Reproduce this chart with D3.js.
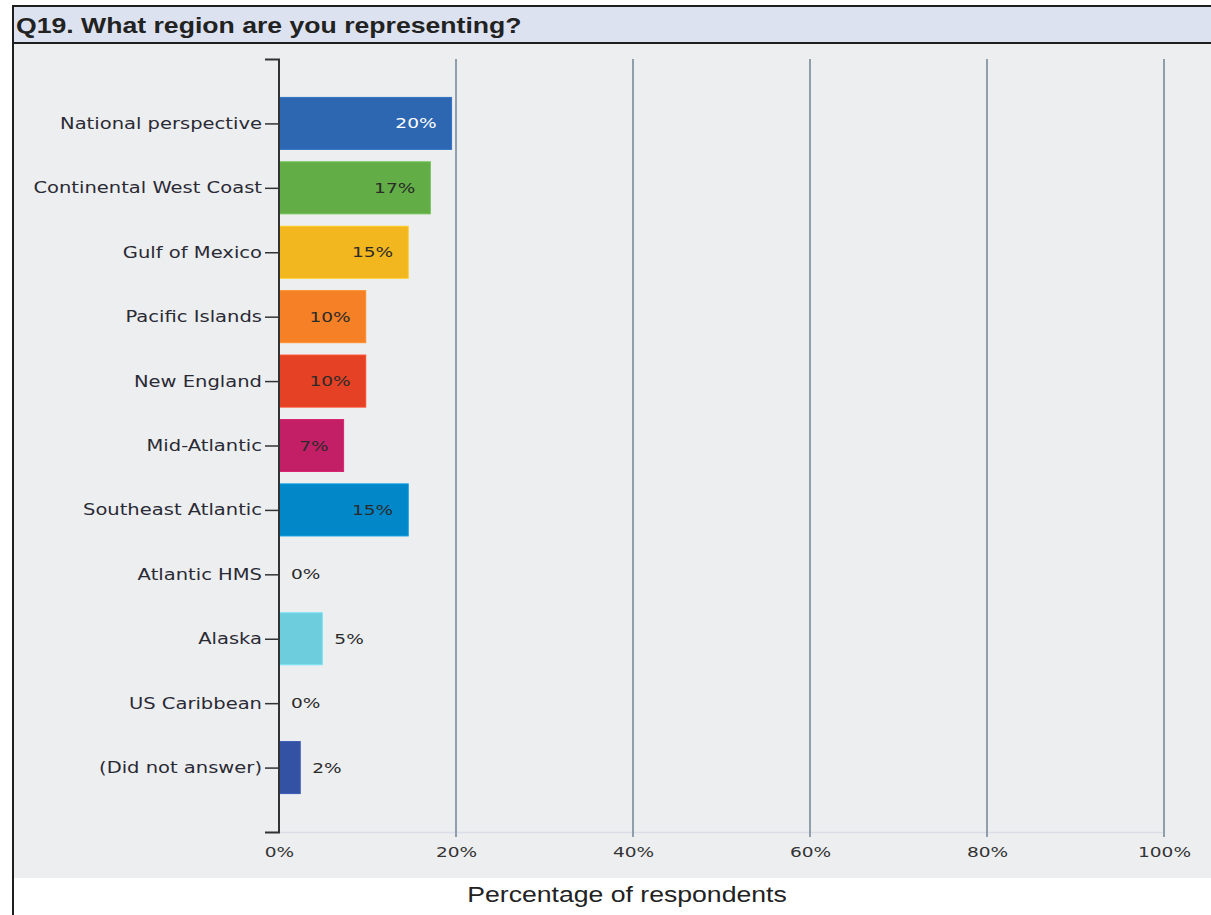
<!DOCTYPE html>
<html>
<head>
<meta charset="utf-8">
<script src="https://cdn.jsdelivr.net/npm/d3@7"></script>
<style>
  html, body { margin: 0; padding: 0; background: #ffffff; }
  svg { display: block; }
</style>
</head>
<body>
<svg id="chart" width="1211" height="915"></svg>
<script>
// Survey responses: share of respondents per region (n = 41)
const title = "Q19. What region are you representing?";
const xTitle = "Percentage of respondents";
const categories = [
  "National perspective",
  "Continental West Coast",
  "Gulf of Mexico",
  "Pacific Islands",
  "New England",
  "Mid-Atlantic",
  "Southeast Atlantic",
  "Atlantic HMS",
  "Alaska",
  "US Caribbean",
  "(Did not answer)"
];
const percents = [19.5, 17.1, 14.6, 9.8, 9.8, 7.3, 14.6, 0, 4.9, 0, 2.4];
const barColors = [
  "#2e67b1", "#62ad46", "#f2b61e", "#f58025", "#e54125",
  "#c31f67", "#0288c9", "#8a8fc0", "#6ecddd", "#9aa0c8", "#3452a4"
];
const xTicks = [0, 20, 40, 60, 80, 100];

const svg = d3.select("#chart");
const W = 1211, H = 915;
const HEAD = "\"Liberation Sans\", Arial, sans-serif";
const BODY = "\"DejaVu Sans\", Verdana, sans-serif";

// Widen a text element horizontally around x = 0 while keeping its anchor at xPos
function widen(sel, xPos, s) {
  sel.attr("x", xPos / s).attr("transform", `scale(${s},1)`);
}

// Frame and panels
svg.append("rect").attr("x", 13).attr("y", 6).attr("width", W).attr("height", H)
  .attr("fill", "#ffffff").attr("stroke", "#1e1e1e").attr("stroke-width", 2);
svg.append("rect").attr("x", 14).attr("y", 7).attr("width", W - 14).attr("height", 36)
  .attr("fill", "#dde2f0");
svg.append("line").attr("x1", 13).attr("x2", W).attr("y1", 43).attr("y2", 43)
  .attr("stroke", "#1e1e1e").attr("stroke-width", 2);
svg.append("rect").attr("x", 14).attr("y", 44).attr("width", W - 14).attr("height", 834)
  .attr("fill", "#edeef0");

svg.append("text").attr("y", 33)
  .attr("font-family", HEAD).attr("font-size", 22).attr("font-weight", "bold").attr("fill", "#222")
  .text(title)
  .call(widen, 16, 1.21);

// Scales
const x = d3.scaleLinear().domain([0, 100]).range([279, 1164]);
const y = d3.scalePoint().domain(categories).range([59, 832]).padding(1);
const barH = 52;

// Bottom baseline (light)
svg.append("line").attr("x1", x(0)).attr("x2", x(100)).attr("y1", 832.5).attr("y2", 832.5)
  .attr("stroke", "#d9dee8").attr("stroke-width", 1.5);

// Vertical gridlines
svg.append("g").selectAll("line").data(xTicks.filter(d => d > 0)).join("line")
  .attr("x1", d => x(d)).attr("x2", d => x(d))
  .attr("y1", 59).attr("y2", 837)
  .attr("stroke", "#8f9eaa").attr("stroke-width", 2);

// X axis tick labels
const xAxis = d3.axisBottom(x).tickValues(xTicks).tickSize(0).tickPadding(0)
  .tickFormat(d => d + "%");
const gx = svg.append("g").attr("transform", "translate(0,852)").call(xAxis);
gx.select(".domain").remove();
gx.selectAll("text")
  .attr("font-size", 14.5).attr("fill", "#333").attr("font-family", BODY)
  .attr("dy", "0.35em")
  .call(widen, 0, 1.28);

// Bars (a faint lighter edge softens each bar outline)
svg.append("g").selectAll("rect").data(categories).join("rect")
  .attr("x", x(0))
  .attr("y", d => y(d) - barH / 2)
  .attr("width", (d, i) => x(percents[i]) - x(0))
  .attr("height", barH)
  .attr("fill", (d, i) => barColors[i])
  .attr("stroke", (d, i) => percents[i] > 0 ? d3.color(barColors[i]).brighter(0.3) : "none")
  .attr("stroke-width", 1);

// Y axis with category ticks plus end caps
const yAxis = d3.axisLeft(y).tickSize(14).tickPadding(3);
const gy = svg.append("g").attr("transform", `translate(${x(0)},0)`).call(yAxis);
gy.select(".domain").remove();
gy.selectAll(".tick line").attr("stroke", "#333").attr("stroke-width", 1.5);
gy.selectAll("text")
  .attr("font-size", 15.5).attr("fill", "#2a2a35").attr("font-family", BODY)
  .call(widen, -17, 1.26);
svg.append("path")
  .attr("d", `M${x(0) - 14},59.5H${x(0)}V832.5H${x(0) - 14}`)
  .attr("fill", "none").attr("stroke", "#333").attr("stroke-width", 2);

// Value labels: inside the bar for larger shares, just past the end otherwise
const fmt = v => Math.round(v) + "%";
svg.append("g").selectAll("text").data(categories).join("text")
  .attr("y", d => y(d))
  .attr("dy", "0.35em")
  .attr("font-size", 14.5)
  .attr("font-family", BODY)
  .each(function(d, i) {
    const v = percents[i];
    const inside = v >= 7;
    d3.select(this)
      .attr("text-anchor", inside ? "end" : "start")
      .attr("fill", i === 0 ? "#ffffff" : "#2a2a2a")
      .text(fmt(v))
      .call(widen, inside ? x(v) - 15 : x(v) + 12, 1.28);
  });

// X axis title
svg.append("text").attr("y", 902).attr("text-anchor", "middle")
  .attr("font-family", HEAD).attr("font-size", 22).attr("fill", "#222")
  .text(xTitle)
  .call(widen, 627, 1.21);
</script>
</body>
</html>
